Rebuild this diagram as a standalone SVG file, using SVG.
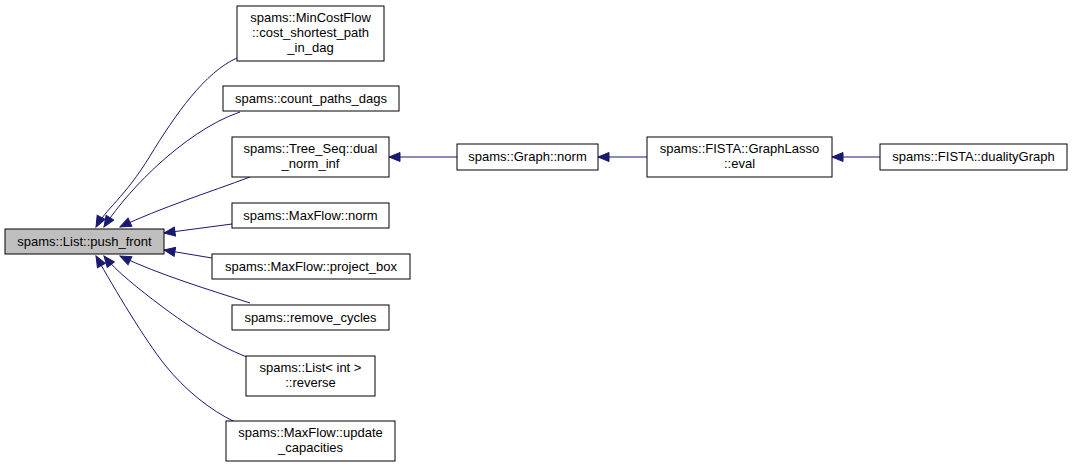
<svg xmlns="http://www.w3.org/2000/svg" width="1073" height="467" viewBox="0 0 1073 467">
<style>
.n rect{fill:#ffffff;stroke:#000000;stroke-width:1}
.n.hl rect{fill:#bfbfbf}
.n text{font-family:"Liberation Sans",Arial,sans-serif;font-size:13px;fill:#000000;text-anchor:middle}
.e path{fill:none;stroke:#191970;stroke-width:1;marker-end:url(#ah)}
</style>
<defs>
<marker id="ah" markerUnits="userSpaceOnUse" markerWidth="13" markerHeight="11" viewBox="0 0 13 11" refX="12" refY="5.5" orient="auto">
<path d="M1,1 L12,5.5 L1,10 Z" fill="#191970" stroke="#191970" stroke-width="1"/>
</marker>
</defs>
<rect width="1073" height="467" fill="#ffffff"/>
<g id="edges" class="e">
<path d="M237,58 C205,72 175,115 150,156 S105,210 96,227"/>
<path d="M240,112 C210,122 180,145 160,163 S118,205 104,227"/>
<path d="M250,177 C210,192 160,208 120,227"/>
<path d="M232,224 L164,233"/>
<path d="M212,258 L164,250"/>
<path d="M250,303 C210,290 160,275 120,256"/>
<path d="M247,357 C215,345 180,320 160,305 S115,270 104,256"/>
<path d="M235,422 C210,410 185,390 165,365 S115,290 96,256"/>
<path d="M457,157 L389,157"/>
<path d="M647,157 L598,157"/>
<path d="M880,157 L832,157"/>
</g>
<g id="push_front" class="n hl"><rect x="5" y="229" width="159" height="25"/><text x="84.5" y="246">spams::List::push_front</text></g>
<g id="cost_shortest_path" class="n"><rect x="237" y="6" width="147" height="55"/><text x="310.5" y="22">spams::MinCostFlow</text><text x="310.5" y="37">::cost_shortest_path</text><text x="310.5" y="52">_in_dag</text></g>
<g id="count_paths_dags" class="n"><rect x="223" y="86" width="176" height="25"/><text x="311" y="103">spams::count_paths_dags</text></g>
<g id="dual_norm_inf" class="n"><rect x="232" y="137" width="157" height="40"/><text x="310.5" y="153">spams::Tree_Seq::dual</text><text x="310.5" y="168">_norm_inf</text></g>
<g id="maxflow_norm" class="n"><rect x="232" y="203" width="157" height="25"/><text x="310.5" y="220">spams::MaxFlow::norm</text></g>
<g id="project_box" class="n"><rect x="212" y="254" width="198" height="25"/><text x="311" y="271">spams::MaxFlow::project_box</text></g>
<g id="remove_cycles" class="n"><rect x="232" y="305" width="157" height="25"/><text x="310.5" y="322">spams::remove_cycles</text></g>
<g id="reverse" class="n"><rect x="246" y="356" width="129" height="40"/><text x="310.5" y="372">spams::List&lt; int &gt;</text><text x="310.5" y="387">::reverse</text></g>
<g id="update_capacities" class="n"><rect x="226" y="421" width="169" height="40"/><text x="310.5" y="437">spams::MaxFlow::update</text><text x="310.5" y="452">_capacities</text></g>
<g id="graph_norm" class="n"><rect x="457" y="144" width="141" height="26"/><text x="527.5" y="161">spams::Graph::norm</text></g>
<g id="graphlasso_eval" class="n"><rect x="647" y="137" width="185" height="40"/><text x="739.5" y="153">spams::FISTA::GraphLasso</text><text x="739.5" y="168">::eval</text></g>
<g id="dualityGraph" class="n"><rect x="880" y="144" width="187" height="26"/><text x="973.5" y="161">spams::FISTA::dualityGraph</text></g>
</svg>
